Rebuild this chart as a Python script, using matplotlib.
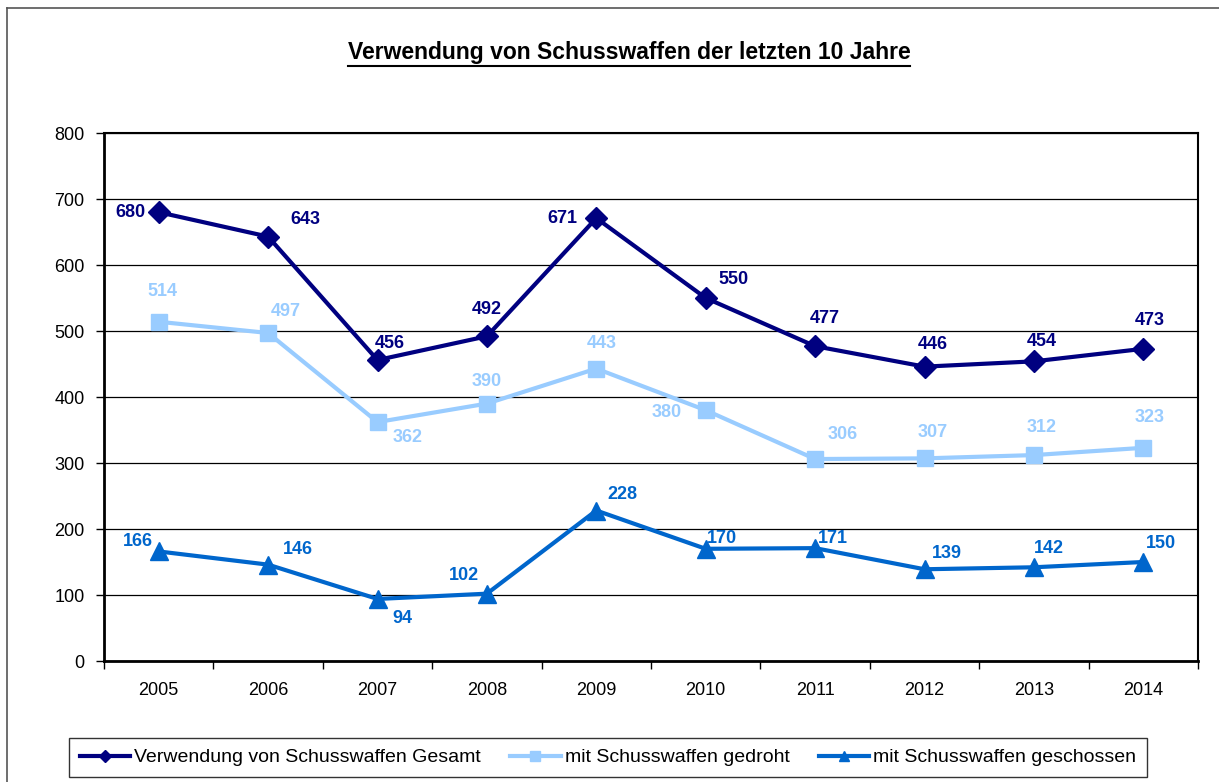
import matplotlib
matplotlib.use("Agg")
import matplotlib.pyplot as plt
from matplotlib.lines import Line2D
import numpy as np

plt.rcParams.update({"font.family": ["Liberation Sans", "DejaVu Sans"], "font.size": 13})

years = ["2005", "2006", "2007", "2008", "2009", "2010", "2011", "2012", "2013", "2014"]
gesamt = [680, 643, 456, 492, 671, 550, 477, 446, 454, 473]
gedroht = [514, 497, 362, 390, 443, 380, 306, 307, 312, 323]
geschossen = [166, 146, 94, 102, 228, 170, 171, 139, 142, 150]
names = ["Verwendung von Schusswaffen Gesamt", "mit Schusswaffen gedroht",
         "mit Schusswaffen geschossen"]
title = "Verwendung von Schusswaffen der letzten 10 Jahre"

# label placement (pixel offsets from each point)
off_gesamt = [(-28, 0), (37, 17), (12, 17), (0, 27), (-34, 0), (28, 18), (10, 28), (8, 22), (8, 20), (6, 28)]
off_gedroht = [(4, 30), (18, 21), (30, -15), (0, 22), (5, 25), (-39, -2), (28, 25), (8, 26), (8, 28), (6, 30)]
off_geschossen = [(-21, 10), (30, 15), (25, -20), (-23, 18), (26, 16), (16, 10), (18, 10), (22, 16), (15, 19), (18, 18)]

W, H = 1219, 782
fig = plt.figure(figsize=(W / 100, H / 100), dpi=100)
ax = fig.add_axes([104 / W, (H - 661) / H, (1198 - 104) / W, (661 - 133) / H])

# outer chart border (top and left visible)
fig.add_artist(Line2D([7 / W, 7 / W], [0, (H - 8) / H], color="#555555", lw=1.2))
fig.add_artist(Line2D([7 / W, 1], [(H - 8) / H, (H - 8) / H], color="#555555", lw=1.2))

x = np.arange(len(years))
series = [
    (gesamt, "#000080", "D", 11, off_gesamt),
    (gedroht, "#99CCFF", "s", 12, off_gedroht),
    (geschossen, "#0066CC", "^", 13, off_geschossen),
]
for (vals, col, mk, ms, offs), name in zip(series, names):
    ax.plot(x, vals, color=col, lw=3, marker=mk, ms=ms, label=name, zorder=3)
    for xi, v, (dx, dy) in zip(x, vals, offs):
        ax.annotate(str(v), (xi, v), xytext=(dx, dy), textcoords="offset pixels",
                    ha="center", va="center", fontsize=13, fontweight="bold", color=col, zorder=4)

ax.set_xlim(-0.5, len(years) - 0.5)
ax.set_ylim(0, 800)
ax.set_yticks(np.arange(0, 801, 100))
ax.yaxis.grid(True, color="black", lw=0.9)
ax.set_axisbelow(True)
ax.set_xticks(x)
ax.set_xticklabels(years)
ax.set_xticks(np.arange(-0.5, len(years), 1), minor=True)
ax.tick_params(axis="x", which="major", length=0, pad=15)
ax.tick_params(axis="x", which="minor", length=6, width=1, direction="out")
ax.tick_params(axis="y", length=6, width=1, direction="out", pad=8)
for s in ["left", "bottom"]:
    ax.spines[s].set_linewidth(2)
for s in ["top", "right"]:
    ax.spines[s].set_linewidth(1.5)

t = fig.text(629 / W, (H - 53) / H, title, ha="center", va="center", fontsize=16.5, fontweight="bold")
fig.canvas.draw()
bb = t.get_window_extent()
uy = bb.y0 - 1
fig.add_artist(Line2D([bb.x0 / W, bb.x1 / W], [uy / H, uy / H], color="black", lw=1.5))

leg = fig.legend(loc="center", bbox_to_anchor=(608 / W, (H - 757.5) / H), ncol=3,
                 frameon=True, fancybox=False, edgecolor="black", handlelength=2.6,
                 handletextpad=0.2, columnspacing=1.5, fontsize=14, markerscale=0.6,
                 borderpad=0.55)
leg.get_frame().set_linewidth(1)

fig.savefig("out.png", dpi=100)
